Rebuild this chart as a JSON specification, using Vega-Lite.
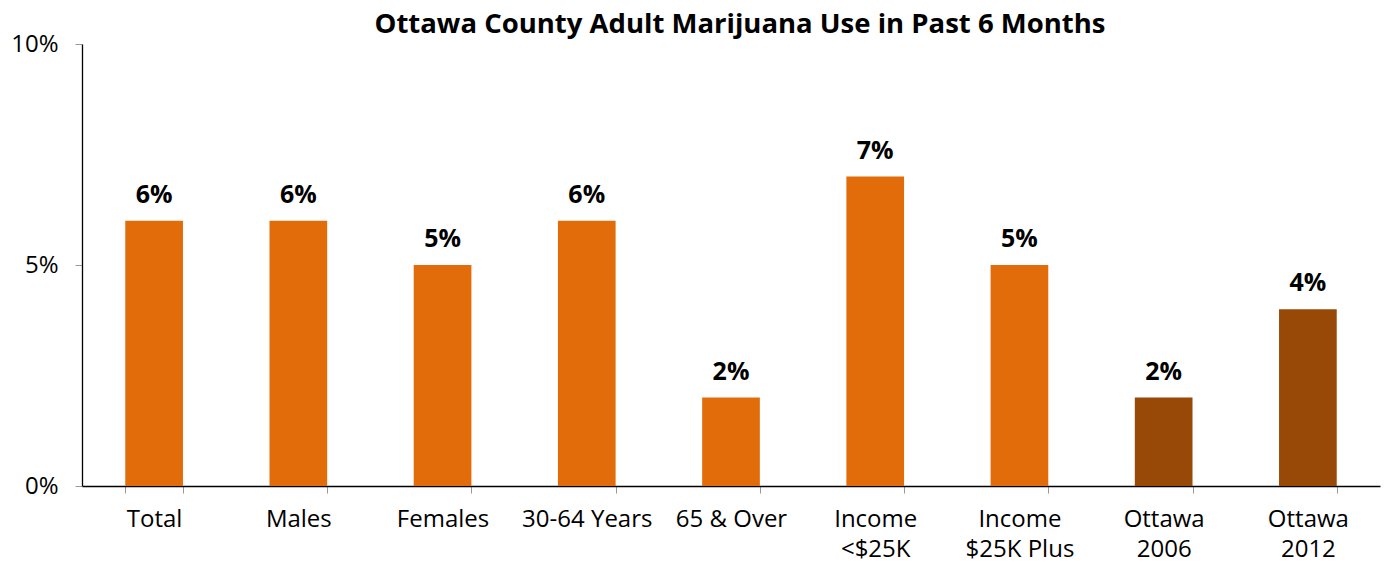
{
  "$schema": "https://vega.github.io/schema/vega-lite/v6.json",
  "width": 1298,
  "height": 442,
  "autosize": {"type": "none"},
  "padding": {"left": 82, "top": 44, "right": 7, "bottom": 78},
  "background": "white",
  "title": {
    "text": "Ottawa County Adult Marijuana Use in Past 6 Months",
    "font": "Open Sans",
    "fontSize": 27.5,
    "fontWeight": "bold",
    "color": "#000000",
    "anchor": "middle",
    "offset": 6,
    "dx": 9,
    "dy": 12
  },
  "data": {
    "values": [
      {"category": "Total", "value": 0.06, "group": "Subgroup"},
      {"category": "Males", "value": 0.06, "group": "Subgroup"},
      {"category": "Females", "value": 0.05, "group": "Subgroup"},
      {"category": "30-64 Years", "value": 0.06, "group": "Subgroup"},
      {"category": "65 & Over", "value": 0.02, "group": "Subgroup"},
      {"category": "Income|<$25K", "value": 0.07, "group": "Subgroup"},
      {"category": "Income|$25K Plus", "value": 0.05, "group": "Subgroup"},
      {"category": "Ottawa|2006", "value": 0.02, "group": "Trend"},
      {"category": "Ottawa|2012", "value": 0.04, "group": "Trend"}
    ]
  },
  "config": {
    "view": {"stroke": null},
    "font": "Open Sans"
  },
  "encoding": {
    "x": {
      "field": "category",
      "type": "nominal",
      "sort": null,
      "scale": {"paddingInner": 0.6, "paddingOuter": 0.3},
      "axis": {
        "title": null,
        "labelAngle": 0,
        "labelExpr": "isValid(datum.value) ? split(datum.value, '|') : ''",
        "labelFont": "Open Sans",
        "labelFontSize": 24,
        "labelColor": "#000000",
        "labelPadding": 14,
        "labelLineHeight": 30,
        "domainColor": "#000000",
        "domainWidth": 1.3,
        "tickColor": "#999999",
        "tickSize": 7,
        "tickBand": "extent",
        "grid": false
      }
    },
    "y": {
      "field": "value",
      "type": "quantitative",
      "scale": {"domain": [0, 0.1]},
      "axis": {
        "title": null,
        "values": [0, 0.05, 0.1],
        "format": ".0%",
        "labelFont": "Open Sans",
        "labelFontSize": 24,
        "labelColor": "#000000",
        "labelPadding": 17,
        "domainColor": "#000000",
        "domainWidth": 1.3,
        "tickColor": "#999999",
        "tickSize": 7,
        "grid": false
      }
    }
  },
  "layer": [
    {
      "mark": {"type": "bar"},
      "encoding": {
        "color": {
          "field": "group",
          "type": "nominal",
          "scale": {"domain": ["Subgroup", "Trend"], "range": ["#E36C0A", "#984807"]},
          "legend": null
        }
      }
    },
    {
      "mark": {"type": "text", "baseline": "alphabetic", "dy": -18, "fontSize": 25, "fontWeight": "bold", "font": "Open Sans", "color": "#000000"},
      "encoding": {
        "text": {"field": "value", "type": "quantitative", "format": ".0%"}
      }
    }
  ]
}
